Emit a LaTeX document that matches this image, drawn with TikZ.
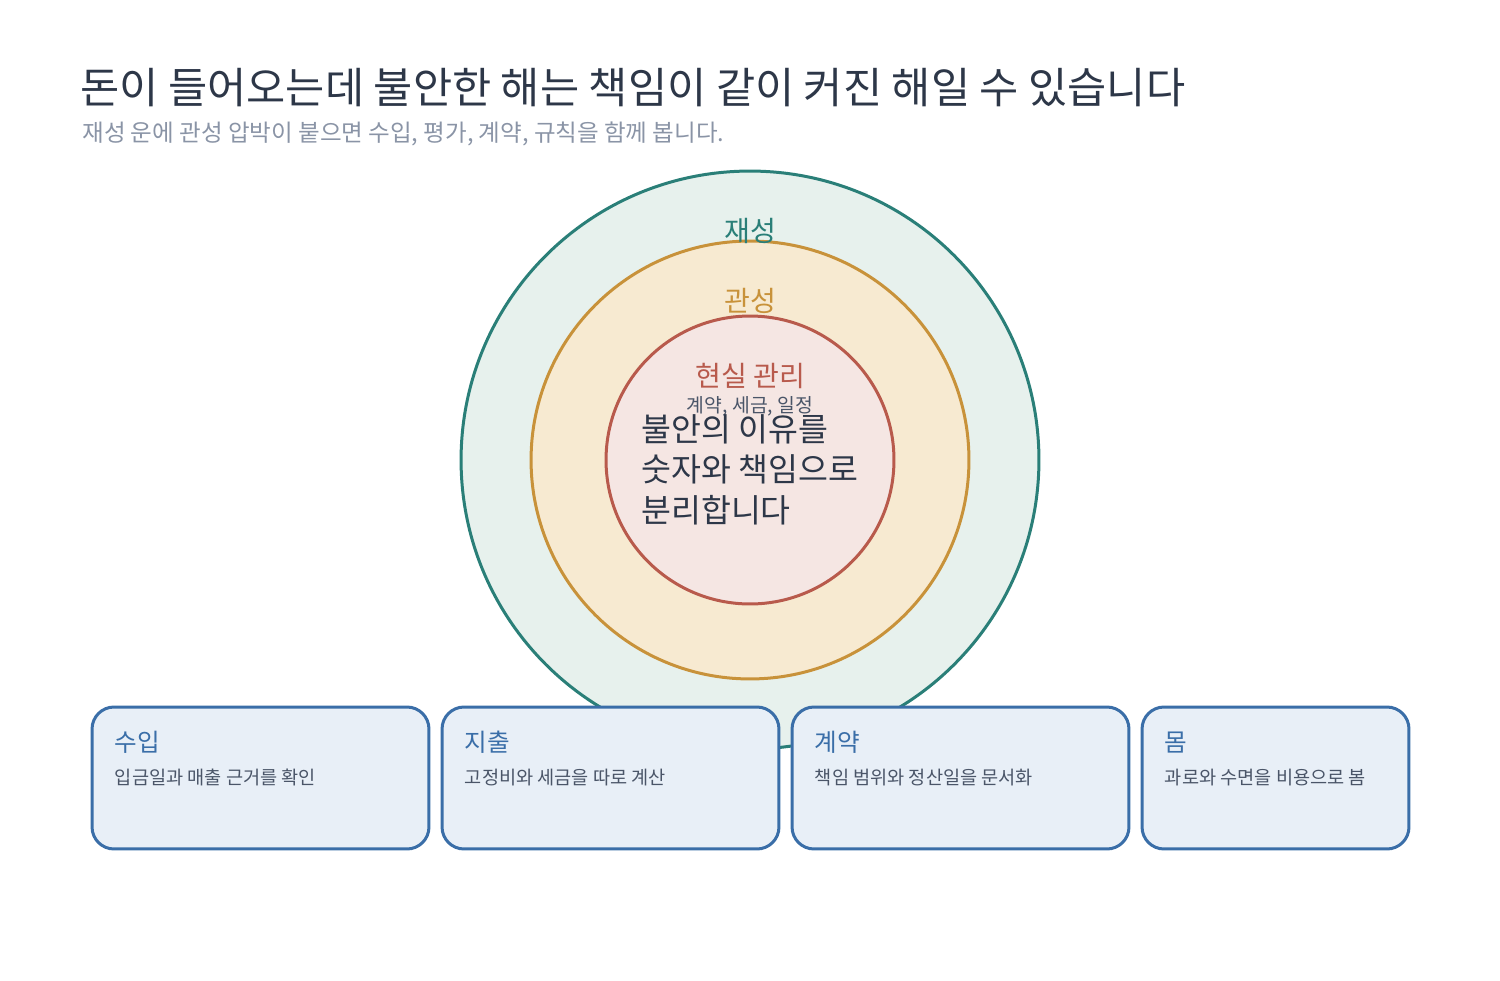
\documentclass[tikz,border=0pt]{standalone}
\usepackage{fontspec}
\setmainfont{Noto Sans CJK KR}
\usepackage{xcolor}
\usepackage{tikz}
\usetikzlibrary{positioning}

\definecolor{inkdark}{HTML}{2D3748}
\definecolor{inkgray}{HTML}{8A94A6}
\definecolor{tealline}{HTML}{2A7F78}
\definecolor{tealfill}{HTML}{E7F1ED}
\definecolor{goldline}{HTML}{C8923A}
\definecolor{goldfill}{HTML}{F7EAD1}
\definecolor{redline}{HTML}{B85A4C}
\definecolor{redfill}{HTML}{F5E6E3}
\definecolor{cardline}{HTML}{3A6EA8}
\definecolor{cardfill}{HTML}{E8EFF7}
\definecolor{cardtext}{HTML}{4A5568}

\begin{document}
\begin{tikzpicture}[
    x=0.02cm, y=-0.02cm,
    ring/.style={circle, line width=0.06cm, inner sep=0},
    ringlabel/.style={font=\fontsize{16}{18}\selectfont},
    card/.style={rectangle, rounded corners=0.44cm, draw=cardline, line width=0.06cm, fill=cardfill, minimum height=2.84cm, inner sep=0},
    cardtitle/.style={anchor=west, inner sep=0, text=cardline, font=\fontsize{14}{16}\selectfont},
    carddesc/.style={anchor=west, inner sep=0, text=cardtext, font=\fontsize{10.6}{13}\selectfont}
]

    \useasboundingbox (0,0) rectangle (1500,980);

    % Heading
    \node[anchor=west, inner sep=0, text=inkdark, font=\fontsize{24.25}{28}\selectfont] (title) at (80,88) {돈이 들어오는데 불안한 해는 책임이 같이 커진 해일 수 있습니다};
    \node[anchor=west, inner sep=0, text=inkgray, font=\fontsize{13.4}{15}\selectfont] (subtitle) at (82,134) {재성 운에 관성 압박이 붙으면 수입, 평가, 계약, 규칙을 함께 봅니다.};

    % Rings
    \node[ring, draw=tealline, fill=tealfill, minimum size=11.56cm] (wealth) at (750,460) {};
    \node[ring, draw=goldline, fill=goldfill, minimum size=8.76cm] (officer) at (750,460) {};
    \node[ring, draw=redline, fill=redfill, minimum size=5.76cm] (reality) at (750,460) {};

    % Ring labels
    \node[ringlabel, text=tealline] (wealthlabel) at (750,231) {재성};
    \node[ringlabel, text=goldline] (officerlabel) at (750,301) {관성};
    \node[ringlabel, text=redline] (realitylabel) at (750,376) {현실 관리};
    \node[text=cardtext, font=\fontsize{11}{13}\selectfont, inner sep=0] (realitynote) at (750,406) {계약, 세금, 일정};
    \node[anchor=north west, align=left, inner sep=0, text=inkdark, font=\fontsize{18.5}{23}\selectfont] (message) at (641,414) {불안의 이유를\\숫자와 책임으로\\분리합니다};

    % Cards
    \node[card, minimum width=6.74cm] (income) at (260.5,778) {};
    \node[card, minimum width=6.74cm] (expense) at (610.5,778) {};
    \node[card, minimum width=6.74cm] (contract) at (960.5,778) {};
    \node[card, minimum width=5.34cm] (body) at (1275.5,778) {};

    \node[cardtitle] (incometitle) at ([xshift=0.48cm, yshift=-0.74cm]income.north west) {수입};
    \node[carddesc] (incomedesc) at ([xshift=0.48cm, yshift=-1.44cm]income.north west) {입금일과 매출 근거를 확인};
    \node[cardtitle] (expensetitle) at ([xshift=0.48cm, yshift=-0.74cm]expense.north west) {지출};
    \node[carddesc] (expensedesc) at ([xshift=0.48cm, yshift=-1.44cm]expense.north west) {고정비와 세금을 따로 계산};
    \node[cardtitle] (contracttitle) at ([xshift=0.48cm, yshift=-0.74cm]contract.north west) {계약};
    \node[carddesc] (contractdesc) at ([xshift=0.48cm, yshift=-1.44cm]contract.north west) {책임 범위와 정산일을 문서화};
    \node[cardtitle] (bodytitle) at ([xshift=0.48cm, yshift=-0.74cm]body.north west) {몸};
    \node[carddesc] (bodydesc) at ([xshift=0.48cm, yshift=-1.44cm]body.north west) {과로와 수면을 비용으로 봄};

\end{tikzpicture}
\end{document}
